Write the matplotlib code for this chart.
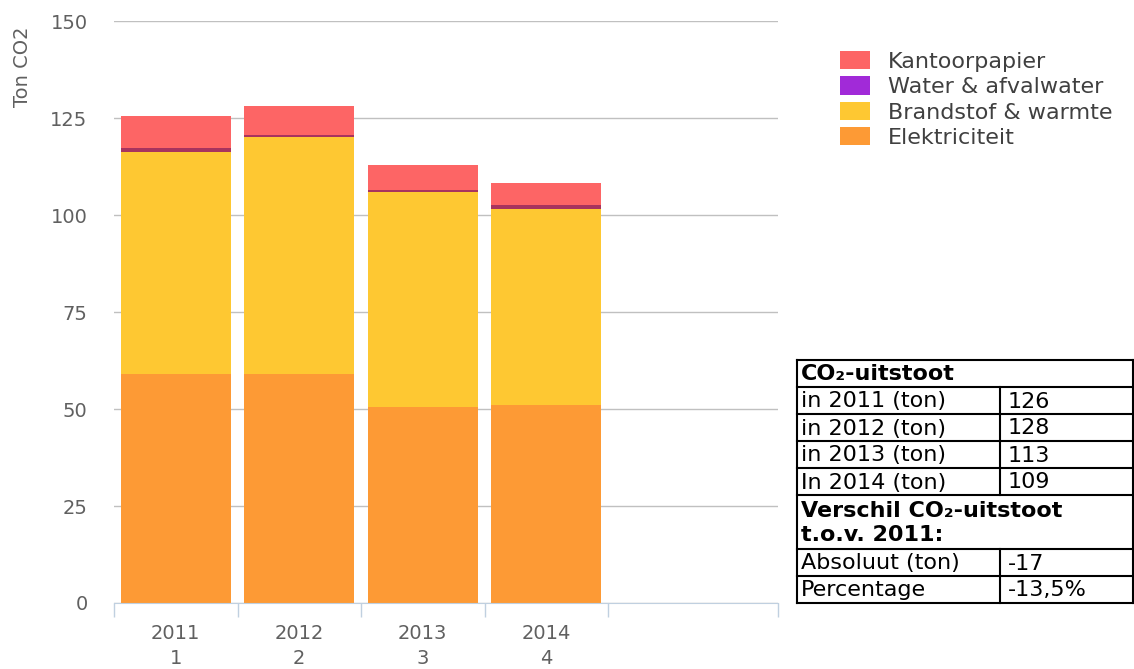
import matplotlib
matplotlib.use("Agg")
import matplotlib.pyplot as plt
from matplotlib.patches import Patch
import numpy as np

years = ["2011", "2012", "2013", "2014"]
cat_labels = ["1", "2", "3", "4"]
elektriciteit = [58.9, 58.9, 50.4, 51.0]
brandstof = [57.3, 61.2, 55.4, 50.6]
water = [1.0, 0.5, 0.6, 0.9]
kantoorpapier = [8.2, 7.4, 6.4, 5.8]

series_names = ["Elektriciteit", "Brandstof & warmte", "Water & afvalwater", "Kantoorpapier"]
legend_colors = ["#fd9a35", "#fec832", "#a12ad8", "#fd6565"]
# the thin water strip reads darker/redder in the bars than in the legend
bar_colors = ["#fd9a35", "#fec832", "#a8335e", "#fd6565"]

table_rows = [
    ("CO\u2082-uitstoot", None, True),
    ("in 2011 (ton)", "126", False),
    ("in 2012 (ton)", "128", False),
    ("in 2013 (ton)", "113", False),
    ("In 2014 (ton)", "109", False),
    ("Verschil CO\u2082-uitstoot\nt.o.v. 2011:", None, True),
    ("Absoluut (ton)", "-17", False),
    ("Percentage", "-13,5%", False),
]

W, H = 1134, 669
fig = plt.figure(figsize=(W / 100, H / 100), dpi=100)
ax = fig.add_axes([114 / W, 1 - 603 / H, (778 - 114) / W, (603 - 21) / H])

x = np.arange(len(years))
stack = [elektriciteit, brandstof, water, kantoorpapier]
bottom = np.zeros(len(years))
handles = []
for vals, name, col, lcol in zip(stack, series_names, bar_colors, legend_colors):
    ax.bar(x, vals, width=0.89, bottom=bottom, color=col, linewidth=0, zorder=3)
    bottom += np.array(vals)
    handles.append(Patch(facecolor=lcol, label=name))

ax.set_ylim(0, 150)
ax.set_yticks(np.arange(0, 151, 25))
ax.set_xlim(-0.5, 4.876)
ax.grid(axis="y", color="#c0c0c0", linewidth=1, zorder=0)
ax.tick_params(axis="y", length=0, pad=19, labelsize=14, labelcolor="#606060")
for s in ["top", "right", "left"]:
    ax.spines[s].set_visible(False)
ax.spines["bottom"].set_color("#c0d0e0")
ax.spines["bottom"].set_zorder(4)

ax.set_xticks(x)
ax.set_xticklabels([f"{y}\n{c}" for y, c in zip(years, cat_labels)], linespacing=1.4)
ax.tick_params(axis="x", length=0, pad=15, labelsize=14, labelcolor="#606060")
ax.set_xticks(list(np.arange(-0.5, 4, 1.0)) + [4.876], minor=True)
ax.tick_params(axis="x", which="minor", length=10, color="#c0d0e0", width=1)

fig.text(22 / W, 1 - 67 / H, "Ton CO2", rotation=90, ha="center", va="center",
         fontsize=14, color="#606060")

fig.legend(handles=handles[::-1], loc="upper left",
           bbox_to_anchor=(840 / W, 1 - 51 / H), frameon=False, fontsize=16,
           borderpad=0, borderaxespad=0, handlelength=1.36, handleheight=0.9,
           handletextpad=0.8, labelspacing=0.2, labelcolor="#404040")

# table overlay in pixel coordinates
tx = fig.add_axes([0, 0, 1, 1])
tx.set_xlim(0, W)
tx.set_ylim(H, 0)
tx.axis("off")
left, right, mid = 797, 1133, 1000
row_h = 27
y = 360
tx.plot([left, right], [y, y], color="black", lw=1.5)
for label, value, bold in table_rows:
    n = label.count("\n") + 1
    h = row_h * n
    tx.text(left + 4, y + h / 2 + 1, label, ha="left", va="center", fontsize=16,
            fontweight="bold" if bold else "normal", color="black", linespacing=1.3)
    if value is not None:
        tx.text(mid + 8, y + h / 2 + 1, value, ha="left", va="center", fontsize=16,
                color="black")
        tx.plot([mid, mid], [y, y + h], color="black", lw=1.5)
    y += h
    tx.plot([left, right], [y, y], color="black", lw=1.5)
tx.plot([left, left], [360, y], color="black", lw=1.5)
tx.plot([right, right], [360, y], color="black", lw=1.5)

fig.savefig("out.png", dpi=100)
